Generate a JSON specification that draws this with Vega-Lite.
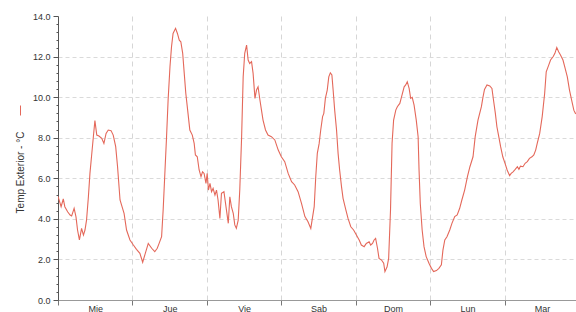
{
  "$schema": "https://vega.github.io/schema/vega-lite/v6.json",
  "width": 518,
  "height": 284,
  "autosize": "none",
  "padding": {"left": 58, "top": 16, "right": 0, "bottom": 12},
  "background": "white",
  "config": {
    "view": {"stroke": null},
    "font": "Liberation Sans",
    "axis": {"labelFont": "Liberation Sans", "titleFont": "Liberation Sans"}
  },
  "data": {
    "values": [
      {"h": 0, "t": 5.1}, {"h": 0.3, "t": 4.96}, {"h": 1.0, "t": 4.6}, {"h": 1.7, "t": 4.98}, {"h": 2.2, "t": 4.6},
      {"h": 3.1, "t": 4.35}, {"h": 3.9, "t": 4.19}, {"h": 4.4, "t": 4.14}, {"h": 5.2, "t": 4.52}, {"h": 5.8, "t": 4.1},
      {"h": 6.3, "t": 3.45}, {"h": 6.9, "t": 2.96}, {"h": 7.6, "t": 3.53}, {"h": 8.2, "t": 3.2}, {"h": 8.7, "t": 3.45},
      {"h": 9.2, "t": 3.94}, {"h": 9.8, "t": 5.09}, {"h": 10.3, "t": 6.24}, {"h": 10.8, "t": 7.06}, {"h": 11.4, "t": 8.05},
      {"h": 11.9, "t": 8.84}, {"h": 12.5, "t": 8.13}, {"h": 13.2, "t": 8.08}, {"h": 14.1, "t": 7.97}, {"h": 14.8, "t": 7.72},
      {"h": 15.5, "t": 8.21}, {"h": 16.2, "t": 8.38}, {"h": 17.1, "t": 8.35}, {"h": 17.8, "t": 8.13}, {"h": 18.6, "t": 7.56},
      {"h": 19.2, "t": 6.57}, {"h": 20.0, "t": 4.93}, {"h": 20.5, "t": 4.68}, {"h": 21.3, "t": 4.27}, {"h": 22.1, "t": 3.45},
      {"h": 23.2, "t": 2.96}, {"h": 24.3, "t": 2.71}, {"h": 25.3, "t": 2.5}, {"h": 26.4, "t": 2.3}, {"h": 27.3, "t": 1.86},
      {"h": 28.0, "t": 2.22}, {"h": 29.1, "t": 2.79}, {"h": 30.2, "t": 2.55}, {"h": 31.2, "t": 2.38}, {"h": 32.0, "t": 2.55},
      {"h": 32.6, "t": 2.79}, {"h": 33.4, "t": 3.12}, {"h": 33.9, "t": 4.44}, {"h": 34.5, "t": 6.41}, {"h": 35.0, "t": 8.05},
      {"h": 35.5, "t": 9.86}, {"h": 36.1, "t": 11.5}, {"h": 36.6, "t": 12.49}, {"h": 37.1, "t": 13.14}, {"h": 37.9, "t": 13.39},
      {"h": 38.5, "t": 13.14}, {"h": 39.1, "t": 12.81}, {"h": 39.6, "t": 12.73}, {"h": 40.2, "t": 12.16}, {"h": 40.7, "t": 11.17},
      {"h": 41.2, "t": 10.19}, {"h": 41.8, "t": 9.36}, {"h": 42.5, "t": 8.38}, {"h": 43.3, "t": 8.13}, {"h": 43.9, "t": 7.72},
      {"h": 44.3, "t": 7.15}, {"h": 44.9, "t": 7.06}, {"h": 45.5, "t": 6.41}, {"h": 46.1, "t": 6.08}, {"h": 46.6, "t": 6.32},
      {"h": 47.1, "t": 6.24}, {"h": 47.7, "t": 5.75}, {"h": 48.1, "t": 6.24}, {"h": 48.5, "t": 5.42}, {"h": 49.0, "t": 5.75},
      {"h": 49.5, "t": 5.34}, {"h": 50.0, "t": 5.5}, {"h": 50.6, "t": 5.17}, {"h": 51.1, "t": 5.42}, {"h": 51.6, "t": 4.93},
      {"h": 52.2, "t": 4.02}, {"h": 52.7, "t": 5.26}, {"h": 53.5, "t": 5.34}, {"h": 54.3, "t": 4.44}, {"h": 54.9, "t": 3.78},
      {"h": 55.4, "t": 5.09}, {"h": 55.9, "t": 4.6}, {"h": 56.5, "t": 4.27}, {"h": 57.0, "t": 3.7}, {"h": 57.5, "t": 3.53},
      {"h": 58.1, "t": 3.94}, {"h": 58.6, "t": 5.42}, {"h": 59.2, "t": 8.05}, {"h": 59.7, "t": 11.0}, {"h": 60.2, "t": 12.16},
      {"h": 60.8, "t": 12.57}, {"h": 61.3, "t": 11.83}, {"h": 61.8, "t": 11.66}, {"h": 62.4, "t": 11.75}, {"h": 62.9, "t": 11.17},
      {"h": 63.5, "t": 9.94}, {"h": 64.0, "t": 10.35}, {"h": 64.5, "t": 10.51}, {"h": 65.1, "t": 9.86}, {"h": 65.6, "t": 9.36},
      {"h": 66.1, "t": 8.87}, {"h": 66.9, "t": 8.38}, {"h": 67.7, "t": 8.13}, {"h": 68.8, "t": 8.05}, {"h": 69.9, "t": 7.89},
      {"h": 71.0, "t": 7.39}, {"h": 72.0, "t": 7.06}, {"h": 73.1, "t": 6.82}, {"h": 74.2, "t": 6.24}, {"h": 75.3, "t": 5.83},
      {"h": 76.3, "t": 5.67}, {"h": 77.4, "t": 5.34}, {"h": 78.5, "t": 4.76}, {"h": 79.6, "t": 4.11}, {"h": 80.6, "t": 3.86},
      {"h": 81.5, "t": 3.53}, {"h": 82.6, "t": 4.6}, {"h": 83.1, "t": 6.08}, {"h": 83.6, "t": 7.23}, {"h": 84.2, "t": 7.72},
      {"h": 84.7, "t": 8.38}, {"h": 85.3, "t": 9.04}, {"h": 85.7, "t": 9.2}, {"h": 86.2, "t": 9.94}, {"h": 86.8, "t": 10.35},
      {"h": 87.3, "t": 11.0}, {"h": 87.8, "t": 11.2}, {"h": 88.3, "t": 11.09}, {"h": 88.7, "t": 10.35}, {"h": 89.2, "t": 9.36},
      {"h": 89.8, "t": 8.38}, {"h": 90.3, "t": 7.23}, {"h": 90.8, "t": 6.41}, {"h": 91.4, "t": 5.59}, {"h": 91.9, "t": 5.01},
      {"h": 92.8, "t": 4.44}, {"h": 93.5, "t": 4.02}, {"h": 94.4, "t": 3.61}, {"h": 95.3, "t": 3.45}, {"h": 96.2, "t": 3.2},
      {"h": 97.1, "t": 2.96}, {"h": 97.8, "t": 2.71}, {"h": 98.7, "t": 2.63}, {"h": 99.4, "t": 2.79}, {"h": 100.3, "t": 2.87},
      {"h": 100.8, "t": 2.71}, {"h": 101.4, "t": 2.79}, {"h": 101.9, "t": 2.96}, {"h": 102.4, "t": 3.04}, {"h": 103.0, "t": 2.55},
      {"h": 103.5, "t": 2.05}, {"h": 104.3, "t": 1.97}, {"h": 105.0, "t": 1.81}, {"h": 105.4, "t": 1.4}, {"h": 106.1, "t": 1.64},
      {"h": 106.6, "t": 2.05}, {"h": 107.2, "t": 4.44}, {"h": 107.7, "t": 7.72}, {"h": 108.2, "t": 8.87}, {"h": 108.9, "t": 9.36},
      {"h": 109.4, "t": 9.53}, {"h": 110.2, "t": 9.69}, {"h": 110.9, "t": 10.1}, {"h": 111.6, "t": 10.51}, {"h": 112.1, "t": 10.6},
      {"h": 112.6, "t": 10.76}, {"h": 113.2, "t": 10.43}, {"h": 113.7, "t": 9.94}, {"h": 114.2, "t": 9.99}, {"h": 114.8, "t": 9.61},
      {"h": 115.5, "t": 8.87}, {"h": 116.1, "t": 8.05}, {"h": 116.4, "t": 6.41}, {"h": 116.8, "t": 4.76}, {"h": 117.4, "t": 3.45},
      {"h": 118.0, "t": 2.63}, {"h": 118.7, "t": 2.14}, {"h": 119.6, "t": 1.81}, {"h": 120.4, "t": 1.56}, {"h": 121.1, "t": 1.4},
      {"h": 122.0, "t": 1.45}, {"h": 122.8, "t": 1.56}, {"h": 123.6, "t": 1.73}, {"h": 124.1, "t": 2.46}, {"h": 124.7, "t": 2.96},
      {"h": 125.4, "t": 3.12}, {"h": 126.3, "t": 3.45}, {"h": 127.0, "t": 3.78}, {"h": 127.9, "t": 4.11}, {"h": 128.7, "t": 4.19},
      {"h": 129.5, "t": 4.52}, {"h": 130.2, "t": 4.93}, {"h": 131.1, "t": 5.42}, {"h": 132.0, "t": 6.08}, {"h": 132.8, "t": 6.57},
      {"h": 133.8, "t": 7.06}, {"h": 134.5, "t": 8.05}, {"h": 135.4, "t": 8.87}, {"h": 136.5, "t": 9.53}, {"h": 137.0, "t": 9.99},
      {"h": 137.5, "t": 10.38}, {"h": 138.3, "t": 10.6}, {"h": 139.2, "t": 10.55}, {"h": 139.9, "t": 10.43}, {"h": 140.4, "t": 9.86},
      {"h": 141.0, "t": 9.2}, {"h": 141.5, "t": 8.54}, {"h": 142.1, "t": 8.05}, {"h": 142.7, "t": 7.56}, {"h": 143.4, "t": 7.06},
      {"h": 144.2, "t": 6.7}, {"h": 144.8, "t": 6.41}, {"h": 145.6, "t": 6.13}, {"h": 146.1, "t": 6.24}, {"h": 146.7, "t": 6.32},
      {"h": 147.4, "t": 6.44}, {"h": 148.1, "t": 6.57}, {"h": 148.6, "t": 6.44}, {"h": 149.1, "t": 6.6}, {"h": 149.9, "t": 6.57},
      {"h": 150.6, "t": 6.74}, {"h": 151.3, "t": 6.82}, {"h": 152.0, "t": 6.98}, {"h": 152.8, "t": 7.06}, {"h": 153.4, "t": 7.15},
      {"h": 154.0, "t": 7.39}, {"h": 154.5, "t": 7.72}, {"h": 155.3, "t": 8.21}, {"h": 156.1, "t": 9.04}, {"h": 156.9, "t": 10.19},
      {"h": 157.4, "t": 11.25}, {"h": 158.2, "t": 11.58}, {"h": 158.8, "t": 11.83}, {"h": 159.6, "t": 11.99}, {"h": 160.2, "t": 12.16},
      {"h": 160.8, "t": 12.45}, {"h": 161.4, "t": 12.24}, {"h": 162.0, "t": 12.08}, {"h": 162.8, "t": 11.83}, {"h": 163.5, "t": 11.42},
      {"h": 164.2, "t": 11.0}, {"h": 164.9, "t": 10.35}, {"h": 165.7, "t": 9.78}, {"h": 166.3, "t": 9.36}, {"h": 166.9, "t": 9.17}
    ]
  },
  "mark": {"type": "line", "strokeWidth": 1.1, "clip": true},
  "encoding": {
    "x": {
      "field": "h",
      "type": "quantitative",
      "scale": {"domain": [0, 167], "nice": false, "zero": false},
      "axis": {
        "title": null,
        "values": [0, 12, 24, 36, 48, 60, 72, 84, 96, 108, 120, 132, 144, 156],
        "labelExpr": "datum.value % 24 == 12 ? ['Mie','Jue','Vie','Sab','Dom','Lun','Mar'][floor(datum.value / 24)] : ''",
        "labelFontSize": 9,
        "labelColor": "#333333",
        "labelPadding": -1,
        "labelBaseline": "top",
        "labelFlush": false,
        "labelOverlap": false,
        "tickSize": 5,
        "tickColor": "#777777",
        "tickOpacity": {"condition": {"test": "datum.value % 24 == 0", "value": 1}, "value": 0},
        "domainColor": "#999999",
        "grid": true,
        "gridColor": "#d6d6d6",
        "gridDash": [5, 4],
        "gridOpacity": {"condition": {"test": "datum.value % 24 == 0 && datum.value > 0", "value": 1}, "value": 0}
      }
    },
    "y": {
      "field": "t",
      "type": "quantitative",
      "scale": {"domain": [0, 14], "nice": false},
      "axis": {
        "title": "Temp Exterior - °C",
        "titleFontSize": 10,
        "titleFontWeight": "normal",
        "titleColor": "#333333",
        "titleAngle": -90,
        "titleAlign": "center",
        "titleBaseline": "middle",
        "titleX": -38,
        "titleY": 156,
        "values": [0, 0.4, 0.8, 1.2, 1.6, 2, 2.4, 2.8, 3.2, 3.6, 4, 4.4, 4.8, 5.2, 5.6, 6, 6.4, 6.8, 7.2, 7.6, 8, 8.4, 8.8, 9.2, 9.6, 10, 10.4, 10.8, 11.2, 11.6, 12, 12.4, 12.8, 13.2, 13.6, 14],
        "labelExpr": "abs(datum.value / 2 - round(datum.value / 2)) < 0.01 ? format(datum.value, '.1f') : ''",
        "labelFontSize": 9,
        "labelColor": "#333333",
        "labelPadding": 3,
        "labelOverlap": false,
        "tickSize": {"condition": {"test": "abs(datum.value / 2 - round(datum.value / 2)) < 0.01", "value": 5}, "value": 2},
        "tickColor": "#555555",
        "domainColor": "#555555",
        "grid": true,
        "gridColor": "#dadada",
        "gridDash": [4, 3],
        "gridOpacity": {"condition": {"test": "abs(datum.value / 2 - round(datum.value / 2)) < 0.01 && datum.value > 0.5 && datum.value < 13", "value": 1}, "value": 0}
      }
    },
    "color": {
      "datum": "Temp Exterior",
      "scale": {"range": ["#e4685a"]},
      "legend": {
        "orient": "none",
        "legendX": -43,
        "legendY": 89,
        "title": null,
        "labelExpr": "''",
        "symbolType": "M0,-1L0,1",
        "symbolSize": 100,
        "symbolStrokeWidth": 1,
        "symbolStrokeColor": "#e4685a",
        "padding": 0
      }
    }
  }
}
